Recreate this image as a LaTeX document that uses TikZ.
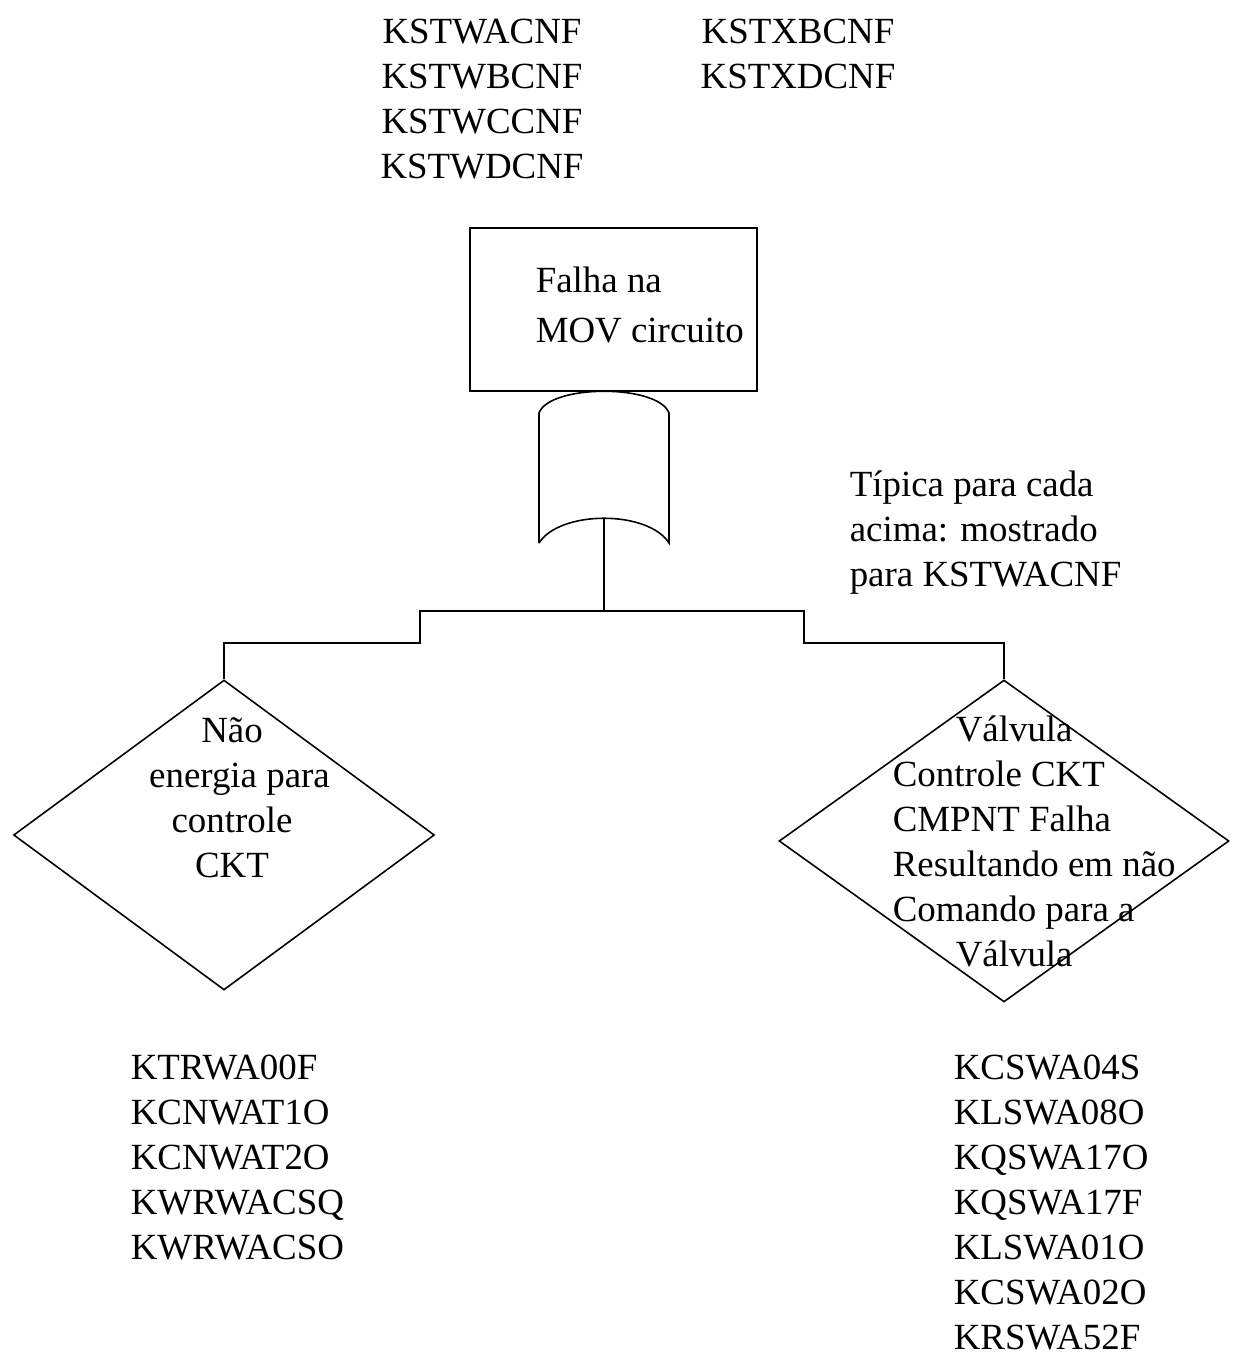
\documentclass[tikz,border=0pt]{standalone}
\usepackage{fontspec}
\setmainfont{Liberation Serif}
\usetikzlibrary{positioning,shapes.geometric}

\begin{document}
\begin{tikzpicture}[
  x=0.02cm,y=-0.02cm,
  line width=0.9pt,
  lst/.style={inner sep=0pt,font=\fontsize{21}{25.6}\selectfont},
  event/.style={draw,rectangle,minimum width=5.74cm,minimum height=3.26cm,inner sep=0pt},
  cond/.style={draw,diamond,inner sep=0pt},
  wire/.style={line width=0.9pt}
]
\useasboundingbox (0,0) rectangle (1234,1356);
% top lists
\node[lst,anchor=north,align=center] (topa) at (482,18) {KSTWACNF\\KSTWBCNF\\KSTWCCNF\\KSTWDCNF};
\node[lst,anchor=north,align=center] (topb) at (798,18) {KSTXBCNF\\KSTXDCNF};
% top event
\node[event] (top) at (613.5,309.5) {};
\node[lst,anchor=north west,align=left,font=\fontsize{21}{28.5}\selectfont] (toptxt) at (535,266) {Falha na\\MOV circuito};
% or gate
\coordinate (orin) at (604,391);
\coordinate (orout) at (604,518);
\draw (539,543) -- (539,413) .. controls (550,384) and (658,384) .. (669,413)
  -- (669,543) .. controls (648,510) and (560,510) .. (539,543);
\node[lst,anchor=north west,align=left] (note) at (849,470) {Típica para cada\\acima: mostrado\\para KSTWACNF};
% branches
\node[cond,minimum width=8.42cm,minimum height=6.2cm] (dl) at (224,835) {};
\node[cond,minimum width=9cm,minimum height=6.44cm] (dr) at (1004,841) {};
\node[lst,anchor=north,align=center] (dltxt) at (232,717) {Não\\ \hspace*{0.3cm}energia para\\controle\\CKT};
\node[lst,anchor=north west,align=left] (drtxt) at (892,715) {\hspace*{1.26cm}Válvula\\Controle CKT\\CMPNT Falha\\Resultando em não\\Comando para a\\\hspace*{1.26cm}Válvula};
\coordinate (bus) at (604,611);
\coordinate (lstep) at (420,643);
\coordinate (rstep) at (804,643);
\draw[wire] (orout) -- (bus);
\draw[wire] (dl.north) |- (lstep) |- (bus) -| (rstep) -| (dr.north);
% basic events
\node[lst,anchor=north west,align=left] (bl) at (130,1054) {KTRWA00F\\KCNWAT1O\\KCNWAT2O\\KWRWACSQ\\KWRWACSO};
\node[lst,anchor=north west,align=left] (br) at (953,1054) {KCSWA04S\\KLSWA08O\\KQSWA17O\\KQSWA17F\\KLSWA01O\\KCSWA02O\\KRSWA52F};
\end{tikzpicture}
\end{document}
